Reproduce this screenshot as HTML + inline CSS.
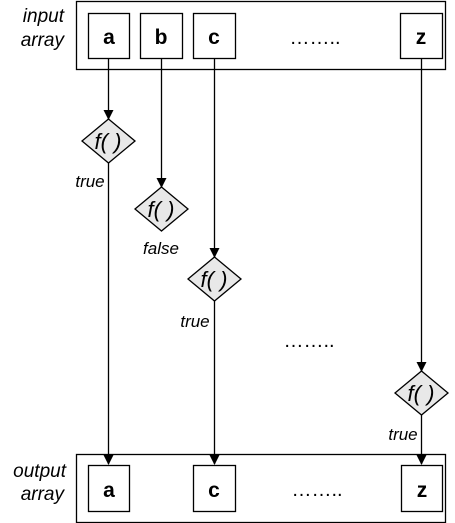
<!DOCTYPE html>
<html><head><meta charset="utf-8"><style>
html,body{margin:0;padding:0;background:#fff;}
svg{display:block;font-family:"Liberation Sans",sans-serif;}
</style></head><body>
<svg width="455" height="523" viewBox="0 0 455 523">
<defs><marker id="ah" markerWidth="10" markerHeight="12" refX="9" refY="5" orient="auto" markerUnits="userSpaceOnUse"><path d="M0,0 L10,5 L0,10 Z" fill="#000"/></marker></defs>
<g fill="none" stroke="#000" stroke-width="1.3">
<rect x="76.5" y="1.5" width="369" height="68"/>
<rect x="88.5" y="13.5" width="41" height="45"/>
<rect x="140.5" y="13.5" width="42" height="45"/>
<rect x="193.5" y="13.5" width="42" height="45"/>
<rect x="400.5" y="13.5" width="42" height="45"/>
<rect x="76.5" y="454.5" width="369" height="68"/>
<rect x="88.5" y="465.5" width="41" height="46"/>
<rect x="193.5" y="465.5" width="42" height="46"/>
<rect x="401.5" y="465.5" width="41" height="46"/>
<line x1="108.5" y1="58" x2="108.5" y2="119" marker-end="url(#ah)"/>
<line x1="108.5" y1="163" x2="108.5" y2="464" marker-end="url(#ah)"/>
<line x1="161.5" y1="58" x2="161.5" y2="187" marker-end="url(#ah)"/>
<line x1="214.5" y1="58" x2="214.5" y2="257" marker-end="url(#ah)"/>
<line x1="214.5" y1="301" x2="214.5" y2="464" marker-end="url(#ah)"/>
<line x1="421.5" y1="58" x2="421.5" y2="371" marker-end="url(#ah)"/>
<line x1="421.5" y1="415" x2="421.5" y2="464" marker-end="url(#ah)"/>
</g>
<g fill="#e8e8e8" stroke="#000" stroke-width="1.3">
<polygon points="108.5,119 135,141 108.5,163 82,141"/>
<polygon points="161.5,187 188,209 161.5,231 135,209"/>
<polygon points="214.5,257 241,279 214.5,301 188,279"/>
<polygon points="421.5,371 448,393 421.5,415 395,393"/>
</g>
<g font-style="italic" font-size="22" text-anchor="middle" fill="#000">
<text x="108" y="149">f( )</text><text x="161" y="217">f( )</text><text x="214" y="287">f( )</text><text x="421" y="401">f( )</text>
</g>
<g font-weight="bold" font-size="21" text-anchor="middle">
<text x="109" y="44">a</text><text x="161" y="44">b</text><text x="214" y="44">c</text><text x="421" y="44">z</text>
<text x="109" y="497">a</text><text x="214" y="497">c</text><text x="422" y="497">z</text>
</g>
<g font-size="20" text-anchor="middle">
<text x="315" y="44">……..</text><text x="309" y="347">……..</text><text x="317" y="496">……..</text>
</g>
<g font-style="italic" font-size="17" text-anchor="middle">
<text x="90" y="187">true</text><text x="161" y="254">false</text><text x="195" y="327">true</text><text x="403" y="440">true</text>
</g>
<g font-style="italic" font-size="19" text-anchor="end">
<text x="64" y="22">input</text><text x="64" y="46">array</text>
<text x="66" y="477">output</text><text x="64" y="500">array</text>
</g>
</svg>
</body></html>
